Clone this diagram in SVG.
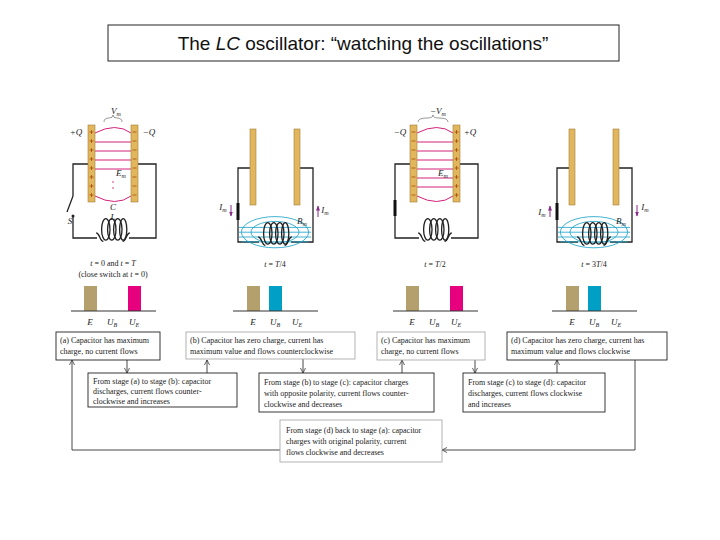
<svg xmlns="http://www.w3.org/2000/svg" width="720" height="540" viewBox="0 0 720 540">
<style>
.t{font-family:"Liberation Serif",serif;font-size:8px;fill:#222}
.lab{font-family:"Liberation Serif",serif;font-style:italic;font-size:9px;fill:#222}
.plate{fill:#e2b65c;stroke:#a07f3a;stroke-width:0.6}
.w{fill:none;stroke:#222;stroke-width:1.3}
.coil{fill:none;stroke:#222;stroke-width:1.1}
.ef{fill:none;stroke:#d4207a;stroke-width:1}
.bf{fill:none;stroke:#1fa3c8;stroke-width:0.7}
.box{fill:#fff;stroke:#222;stroke-width:0.9}
.gbox{fill:#fff;stroke:#aaa;stroke-width:0.9}
.cn{fill:none;stroke:#333;stroke-width:0.9}
.axis{stroke:#333;stroke-width:1}
.sg{stroke:#a04000;stroke-width:0.7}
</style>
<defs>
<marker id="ah" viewBox="0 0 10 10" refX="9" refY="5" markerWidth="7" markerHeight="7" orient="auto"><path d="M1,1 L9,5 L1,9" fill="none" stroke="#333" stroke-width="1.2"/></marker>
<marker id="pa" viewBox="0 0 10 10" refX="9" refY="5" markerWidth="5" markerHeight="5" orient="auto"><path d="M0,1 L10,5 L0,9 z" fill="#8a2a8a"/></marker>
<g id="coilshape">
<path class="coil" d="M-14,0 C-11,0 -11,7 -8,7 M14,0 C11,0 11,7 8,7"/>
<ellipse class="coil" cx="-6" cy="-3" rx="3.5" ry="9"/>
<ellipse class="coil" cx="-1" cy="-3" rx="3.5" ry="9"/>
<ellipse class="coil" cx="4" cy="-3" rx="3.5" ry="9"/>
<ellipse class="coil" cx="8.5" cy="-3" rx="3" ry="9"/>
</g>
<g id="bfield">
<ellipse class="bf" cx="0" cy="-4" rx="20" ry="9"/>
<ellipse class="bf" cx="0" cy="-4" rx="28" ry="13"/>
<path class="bf" d="M-30,-8 L30,-8 M-30,-4 L30,-4 M-30,0 L30,0 M-28,4 L28,4"/>
</g>
<g id="plus"><path class="sg" d="M-2,0 H2 M0,-2 V2"/></g>
<g id="minus"><path class="sg" d="M-2,0 H2"/></g>
</defs>
<rect x="108" y="25" width="511" height="36" fill="#fff" stroke="#222" stroke-width="1"/>
<text x="363" y="50" text-anchor="middle" style="font-family:'Liberation Sans',sans-serif;font-size:19px;fill:#111">The <tspan font-style="italic">LC</tspan> oscillator: “watching the oscillations”</text>

<g id="panel-a">
<path class="w" d="M88,164 H73 V196 M73,216 V238 H97 M129,238 H156 V164 H137"/>
<path class="w" d="M73,196 L67,212" stroke-width="1.6"/><circle cx="73" cy="216" r="1.5" fill="#222"/>
<use href="#coilshape" transform="translate(113,233) scale(1.2)"/>
<path class="ef" d="M95,133 Q116,122 131,133 M95,196 Q116,207 131,196 M95,142 H131 M95,151 H131 M95,160 H131 M95,169 H131"/>
<rect class="plate" x="88" y="125" width="7" height="77"/>
<rect class="plate" x="131" y="125" width="7" height="77"/>
<use href="#plus" x="91.5" y="132"/><use href="#plus" x="91.5" y="141"/><use href="#plus" x="91.5" y="150"/><use href="#plus" x="91.5" y="159"/><use href="#plus" x="91.5" y="168"/><use href="#plus" x="91.5" y="177"/><use href="#plus" x="91.5" y="186"/><use href="#plus" x="91.5" y="195"/>
<use href="#minus" x="134.5" y="132"/><use href="#minus" x="134.5" y="141"/><use href="#minus" x="134.5" y="150"/><use href="#minus" x="134.5" y="159"/><use href="#minus" x="134.5" y="168"/><use href="#minus" x="134.5" y="177"/><use href="#minus" x="134.5" y="186"/><use href="#minus" x="134.5" y="195"/>
<path d="M104,122 Q104,118 109,118 Q113,118 113,115 Q113,118 117,118 Q122,118 122,122" fill="none" stroke="#555" stroke-width="0.6"/>
<text class="lab" x="116" y="114" text-anchor="middle">V<tspan font-size="6" dy="2">m</tspan></text>
<text class="lab" x="76" y="135" text-anchor="middle">+Q</text>
<text class="lab" x="149" y="135" text-anchor="middle">−Q</text>
<text class="lab" x="121" y="176" text-anchor="middle">E<tspan font-size="6" dy="2">m</tspan></text>
<circle cx="113" cy="182" r="0.8" fill="#d4207a"/><circle cx="113" cy="188" r="0.8" fill="#d4207a"/>
<text class="lab" x="113" y="210" text-anchor="middle">C</text>
<text class="lab" x="113" y="220" text-anchor="middle">L</text>
<text class="lab" x="70" y="224" text-anchor="middle">S</text>
<text class="t" x="113" y="266" text-anchor="middle" font-size="9"><tspan font-style="italic">t</tspan> = 0 and <tspan font-style="italic">t</tspan> = <tspan font-style="italic">T</tspan></text>
<text class="t" x="113" y="277" text-anchor="middle" font-size="9">(close switch at <tspan font-style="italic">t</tspan> = 0)</text>
<rect x="84" y="286" width="13" height="25" fill="#b3a06c"/>
<rect x="128" y="286" width="13" height="25" fill="#e6007e"/>
<line class="axis" x1="71" y1="311" x2="156" y2="311"/>
<text class="lab" x="90" y="325" text-anchor="middle">E</text>
<text class="lab" x="112" y="325" text-anchor="middle">U<tspan font-size="6" dy="2">B</tspan></text>
<text class="lab" x="134" y="325" text-anchor="middle">U<tspan font-size="6" dy="2">E</tspan></text>
</g>

<g id="panel-b">
<path class="w" d="M250,168 H238 V242 H259 M291,242 H313 V168 H300"/>
<line x1="238" y1="203" x2="238" y2="220" stroke="#111" stroke-width="3"/>
<use href="#bfield" transform="translate(275,237) scale(1.2)"/>
<use href="#coilshape" transform="translate(275,237) scale(1.2)"/>
<rect class="plate" x="250" y="129" width="6" height="76"/>
<rect class="plate" x="294" y="129" width="6" height="76"/>
<line x1="231" y1="205" x2="231" y2="216" stroke="#8a2a8a" marker-end="url(#pa)"/>
<line x1="318" y1="217" x2="318" y2="206" stroke="#8a2a8a" marker-end="url(#pa)"/>
<text class="lab" x="223" y="210" text-anchor="middle">I<tspan font-size="6" dy="2">m</tspan></text>
<text class="lab" x="325" y="213" text-anchor="middle">I<tspan font-size="6" dy="2">m</tspan></text>
<text class="lab" x="302" y="224" text-anchor="middle">B<tspan font-size="6" dy="2">m</tspan></text>
<text class="t" x="275" y="267" text-anchor="middle" font-size="9"><tspan font-style="italic">t</tspan> = <tspan font-style="italic">T</tspan>/4</text>
<rect x="247" y="286" width="13" height="25" fill="#b3a06c"/>
<rect x="269" y="286" width="13" height="25" fill="#00a0c6"/>
<line class="axis" x1="233" y1="311" x2="318" y2="311"/>
<text class="lab" x="253" y="325" text-anchor="middle">E</text>
<text class="lab" x="275" y="325" text-anchor="middle">U<tspan font-size="6" dy="2">B</tspan></text>
<text class="lab" x="297" y="325" text-anchor="middle">U<tspan font-size="6" dy="2">E</tspan></text>
</g>

<g id="panel-c">
<path class="w" d="M410,164 H395 V238 H419 M451,238 H478 V164 H459"/>
<line x1="395" y1="200" x2="395" y2="216" stroke="#111" stroke-width="3"/>
<use href="#coilshape" transform="translate(435,233) scale(1.2)"/>
<path class="ef" d="M417,133 Q438,122 453,133 M417,196 Q438,207 453,196 M417,142 H453 M417,151 H453 M417,160 H453 M417,169 H453 M417,178 H453 M417,187 H453"/>
<rect class="plate" x="410" y="125" width="7" height="77"/>
<rect class="plate" x="453" y="125" width="7" height="77"/>
<use href="#minus" x="413.5" y="132"/><use href="#minus" x="413.5" y="141"/><use href="#minus" x="413.5" y="150"/><use href="#minus" x="413.5" y="159"/><use href="#minus" x="413.5" y="168"/><use href="#minus" x="413.5" y="177"/><use href="#minus" x="413.5" y="186"/><use href="#minus" x="413.5" y="195"/>
<use href="#plus" x="456.5" y="132"/><use href="#plus" x="456.5" y="141"/><use href="#plus" x="456.5" y="150"/><use href="#plus" x="456.5" y="159"/><use href="#plus" x="456.5" y="168"/><use href="#plus" x="456.5" y="177"/><use href="#plus" x="456.5" y="186"/><use href="#plus" x="456.5" y="195"/>
<path d="M418,122 Q418,118 427,118 Q433,118 433,115 Q433,118 439,118 Q448,118 448,122" fill="none" stroke="#555" stroke-width="0.6"/>
<text class="lab" x="438" y="114" text-anchor="middle">−V<tspan font-size="6" dy="2">m</tspan></text>
<text class="lab" x="400" y="135" text-anchor="middle">−Q</text>
<text class="lab" x="470" y="135" text-anchor="middle">+Q</text>
<text class="lab" x="443" y="176" text-anchor="middle">E<tspan font-size="6" dy="2">m</tspan></text>
<text class="t" x="435" y="267" text-anchor="middle" font-size="9"><tspan font-style="italic">t</tspan> = <tspan font-style="italic">T</tspan>/2</text>
<rect x="406" y="286" width="13" height="25" fill="#b3a06c"/>
<rect x="450" y="286" width="13" height="25" fill="#e6007e"/>
<line class="axis" x1="393" y1="311" x2="478" y2="311"/>
<text class="lab" x="412" y="325" text-anchor="middle">E</text>
<text class="lab" x="434" y="325" text-anchor="middle">U<tspan font-size="6" dy="2">B</tspan></text>
<text class="lab" x="456" y="325" text-anchor="middle">U<tspan font-size="6" dy="2">E</tspan></text>
</g>

<g id="panel-d">
<path class="w" d="M569,168 H557 V242 H578 M610,242 H632 V168 H619"/>
<line x1="557" y1="203" x2="557" y2="220" stroke="#111" stroke-width="3"/>
<use href="#bfield" transform="translate(594,237) scale(1.2)"/>
<use href="#coilshape" transform="translate(594,237) scale(1.2)"/>
<rect class="plate" x="569" y="129" width="6" height="76"/>
<rect class="plate" x="613" y="129" width="6" height="76"/>
<line x1="550" y1="217" x2="550" y2="206" stroke="#8a2a8a" marker-end="url(#pa)"/>
<line x1="637" y1="205" x2="637" y2="216" stroke="#8a2a8a" marker-end="url(#pa)"/>
<text class="lab" x="542" y="215" text-anchor="middle">I<tspan font-size="6" dy="2">m</tspan></text>
<text class="lab" x="645" y="210" text-anchor="middle">I<tspan font-size="6" dy="2">m</tspan></text>
<text class="lab" x="621" y="224" text-anchor="middle">B<tspan font-size="6" dy="2">m</tspan></text>
<text class="t" x="594" y="267" text-anchor="middle" font-size="9"><tspan font-style="italic">t</tspan> = 3<tspan font-style="italic">T</tspan>/4</text>
<rect x="566" y="286" width="13" height="25" fill="#b3a06c"/>
<rect x="588" y="286" width="13" height="25" fill="#00a0c6"/>
<line class="axis" x1="552" y1="311" x2="637" y2="311"/>
<text class="lab" x="572" y="325" text-anchor="middle">E</text>
<text class="lab" x="594" y="325" text-anchor="middle">U<tspan font-size="6" dy="2">B</tspan></text>
<text class="lab" x="616" y="325" text-anchor="middle">U<tspan font-size="6" dy="2">E</tspan></text>
</g>

<g id="connectors">
<line class="cn" x1="127" y1="360" x2="127" y2="373" marker-end="url(#ah)"/>
<line class="cn" x1="207" y1="373" x2="207" y2="360" marker-end="url(#ah)"/>
<line class="cn" x1="303" y1="359" x2="303" y2="373" marker-end="url(#ah)"/>
<line class="cn" x1="402" y1="373" x2="402" y2="360" marker-end="url(#ah)"/>
<line class="cn" x1="475" y1="360" x2="475" y2="373" marker-end="url(#ah)"/>
<line class="cn" x1="557" y1="373" x2="557" y2="360" marker-end="url(#ah)"/>
<polyline class="cn" points="635,360 635,450 442,450" marker-end="url(#ah)"/>
<polyline class="cn" points="280,450 72,450 72,360" marker-end="url(#ah)"/>
</g>

<g id="box-a"><rect class="box" x="56" y="332" width="104" height="28"/>
<text class="t" x="60" y="343">(a) Capacitor has maximum</text><text class="t" x="60" y="354">charge, no current flows</text></g>
<g id="box-b"><rect class="gbox" x="186" y="332" width="169" height="27"/>
<text class="t" x="190" y="343">(b) Capacitor has zero charge, current has</text><text class="t" x="190" y="354">maximum value and flows counterclockwise</text></g>
<g id="box-c"><rect class="gbox" x="377" y="332" width="108" height="28"/>
<text class="t" x="381" y="343">(c) Capacitor has maximum</text><text class="t" x="381" y="354">charge, no current flows</text></g>
<g id="box-d"><rect class="box" x="507" y="332" width="160" height="28"/>
<text class="t" x="511" y="343">(d) Capacitor has zero charge, current has</text><text class="t" x="511" y="354">maximum value and flows clockwise</text></g>
<g id="box-ab"><rect class="box" x="88" y="373" width="149" height="34"/>
<text class="t" x="93" y="384">From stage (a) to stage (b): capacitor</text><text class="t" x="93" y="394">discharges, current flows counter-</text><text class="t" x="93" y="404">clockwise and increases</text></g>
<g id="box-bc"><rect class="box" x="259" y="373" width="175" height="39"/>
<text class="t" x="264" y="385">From stage (b) to stage (c): capacitor charges</text><text class="t" x="264" y="396">with opposite polarity, current flows counter-</text><text class="t" x="264" y="407">clockwise and decreases</text></g>
<g id="box-cd"><rect class="box" x="463" y="373" width="142" height="39"/>
<text class="t" x="468" y="385">From stage (c) to stage (d): capacitor</text><text class="t" x="468" y="396">discharges, current flows clockwise</text><text class="t" x="468" y="407">and increases</text></g>
<g id="box-da"><rect class="gbox" x="280" y="420" width="162" height="42"/>
<text class="t" x="286" y="433">From stage (d) back to stage (a): capacitor</text><text class="t" x="286" y="444">charges with original polarity, current</text><text class="t" x="286" y="455">flows clockwise and decreases</text></g>
</svg>
